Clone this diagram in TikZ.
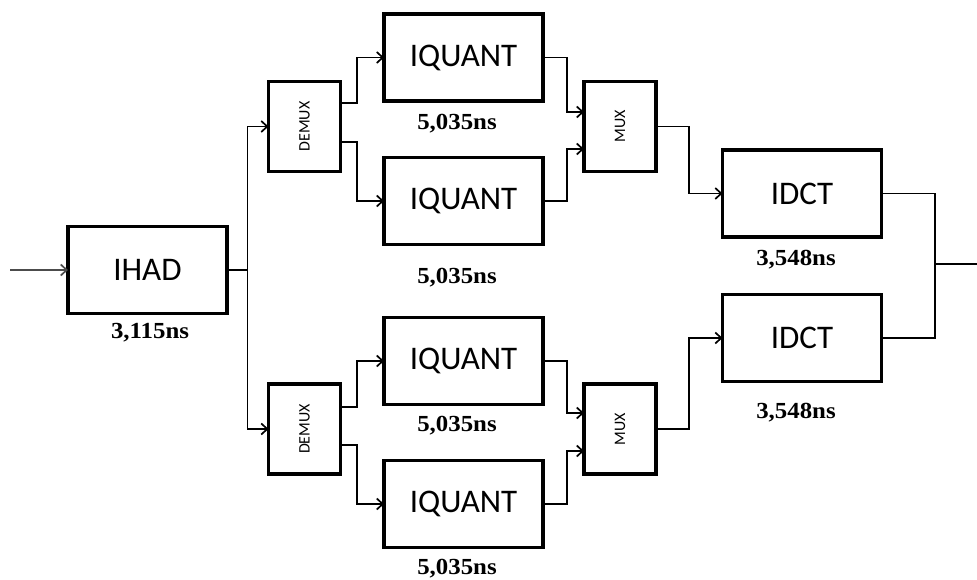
\documentclass[tikz,border=0pt]{standalone}
\usepackage{fontspec}
\setmainfont{Liberation Serif}
\newfontfamily\blockfont{Carlito}
\usetikzlibrary{arrows.meta,calc}

\begin{document}
\begin{tikzpicture}[x=1pt,y=-1pt,
  block/.style={draw,line width=3.2pt,minimum width=159pt,minimum height=87pt,
    inner sep=0pt,outer sep=0pt,font=\blockfont\fontsize{33}{33}\selectfont},
  switch/.style={draw,line width=3.2pt,minimum width=72pt,minimum height=90pt,
    inner sep=0pt,outer sep=0pt,font=\blockfont\fontsize{16}{16}\selectfont},
  delay/.style={anchor=base,inner sep=0pt,font=\bfseries\fontsize{23}{23}\selectfont},
  wire/.style={line width=1.7pt},
  feed/.style={wire,-{Straight Barb[length=6pt,width=11pt]}},
]
\useasboundingbox (0,0) rectangle (977,580);

% processing blocks
\node[block] (ihad)  at (147.5,270)  {IHAD};
\node[block] (iq1)   at (463.5,57.5) {IQUANT};
\node[block] (iq2)   at (463.5,201)  {IQUANT};
\node[block] (iq3)   at (463.5,361)  {IQUANT};
\node[block] (iq4)   at (463.5,504)  {IQUANT};
\node[block] (idct1) at (802,193.5)  {IDCT};
\node[block] (idct2) at (802,338)    {IDCT};

% demultiplexers and multiplexers
\node[switch] (dm1) at (304.5,126.5) {\rotatebox{90}{DEMUX}};
\node[switch] (dm2) at (304.5,429)   {\rotatebox{90}{DEMUX}};
\node[switch] (mx1) at (620,126.5)   {\rotatebox{90}{MUX}};
\node[switch] (mx2) at (620,429)     {\rotatebox{90}{MUX}};

% delays
\node[delay] (t0) at (150,338) {\scalebox{1.08}[1]{3,115ns}};
\node[delay] (t1) at (457,130) {\scalebox{1.08}[1]{5,035ns}};
\node[delay] (t2) at (457,283) {\scalebox{1.08}[1]{5,035ns}};
\node[delay] (t3) at (457,431) {\scalebox{1.08}[1]{5,035ns}};
\node[delay] (t4) at (457,574) {\scalebox{1.08}[1]{5,035ns}};
\node[delay] (t5) at (796,265) {\scalebox{1.08}[1]{3,548ns}};
\node[delay] (t6) at (796,418) {\scalebox{1.08}[1]{3,548ns}};

% input and fan-out
\coordinate (src)  at (10,270);
\coordinate (fork) at (247.5,270);
\draw[feed,draw=black!70] (src) -- (ihad.west);
\draw[wire] (ihad.east) -- (fork);
\draw[feed] (fork) |- (dm1.west);
\draw[feed] (fork) |- (dm2.west);

% demultiplexers to IQUANT
\draw[feed] ([yshift=23.5pt]dm1.east) -- ++(16.5,0) |- (iq1.west);
\draw[feed] ([yshift=-15.5pt]dm1.east) -- ++(16.5,0) |- (iq2.west);
\draw[feed] ([yshift=22pt]dm2.east) -- ++(16.5,0) |- (iq3.west);
\draw[feed] ([yshift=-16pt]dm2.east) -- ++(16.5,0) |- (iq4.west);

% IQUANT to multiplexers
\draw[feed] (iq1.east) -- ++(24,0) |- ([yshift=14.5pt]mx1.west);
\draw[feed] (iq2.east) -- ++(24,0) |- ([yshift=-22.5pt]mx1.west);
\draw[feed] (iq3.east) -- ++(24,0) |- ([yshift=16pt]mx2.west);
\draw[feed] (iq4.east) -- ++(24,0) |- ([yshift=-22pt]mx2.west);

% multiplexers to IDCT
\draw[feed] (mx1.east) -- ++(33,0) |- (idct1.west);
\draw[feed] (mx2.east) -- ++(33,0) |- (idct2.west);

% merged output
\coordinate (join) at (935,264);
\coordinate (sink) at (977,264);
\draw[wire] (idct1.east) -- ++(53.5,0) |- (idct2.east);
\draw[wire] (join) -- (sink);
\end{tikzpicture}
\end{document}
